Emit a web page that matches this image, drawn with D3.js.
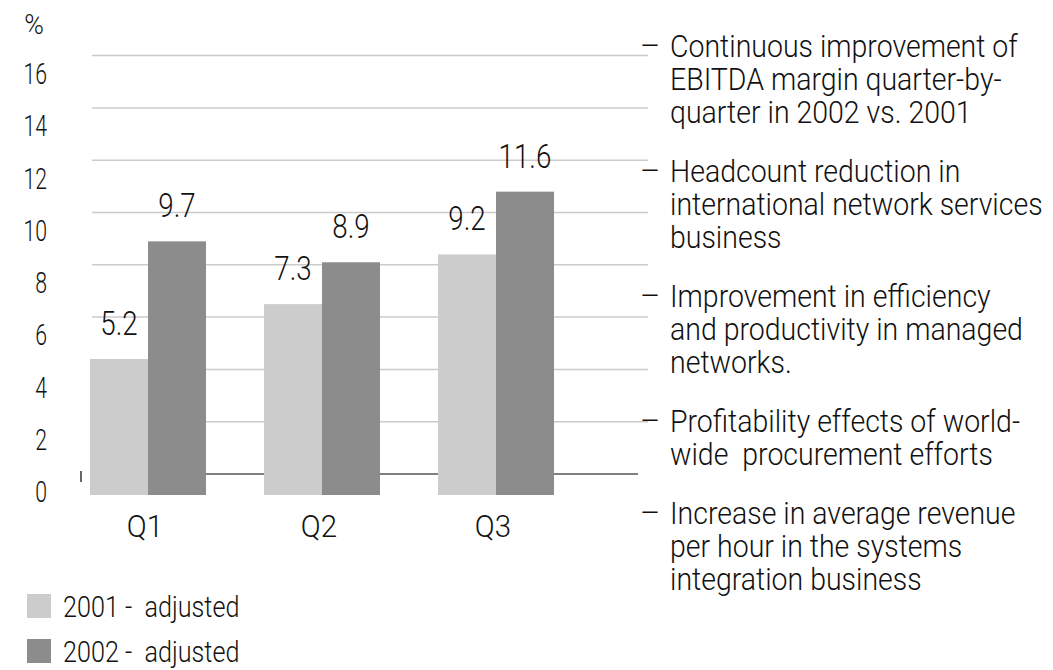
<!DOCTYPE html>
<html lang="en">
<head>
    <meta charset="UTF-8">
    <title>EBITDA margin by quarter</title>
    <script src="https://d3js.org/d3.v7.min.js"></script>
    <style>
        body {
            margin: 0;
            background: #fff;
        }
        svg text {
            font-family: Roboto, "Liberation Sans", sans-serif;
            font-weight: 300;
            fill: #111;
            white-space: pre;
        }
    </style>
</head>
<body>
    <div id="chart"></div>

    <script>
        const quarters = ['Q1', 'Q2', 'Q3'];
        const seriesNames = ['2001 -  adjusted', '2002 -  adjusted'];
        const values2001 = [5.2, 7.3, 9.2];
        const values2002 = [9.7, 8.9, 11.6];
        const yTicks = [0, 2, 4, 6, 8, 10, 12, 14, 16];
        const unitLabel = '%';
        const bullets = [
            ['Continuous improvement of', 'EBITDA margin quarter-by-', 'quarter in 2002 vs. 2001'],
            ['Headcount reduction in', 'international network services', 'business'],
            ['Improvement in efficiency', 'and productivity in managed', 'networks.'],
            ['Profitability effects of world-', 'wide  procurement efforts'],
            ['Increase in average revenue', 'per hour in the systems', 'integration business']
        ];

        const colors = ['#cccccc', '#8c8c8c'];
        const width = 1053;
        const height = 670;

        const svg = d3.select('#chart').append('svg')
            .attr('width', width)
            .attr('height', height);

        // the slide uses a condensed face, so squeeze text horizontally
        function squeeze(sel, fx, fy, sx) {
            sel.attr('x', 0).attr('y', 0)
                .attr('transform', (d, i) => `translate(${fx(d, i)},${fy(d, i)}) scale(${sx},1)`);
        }

        const x0 = d3.scaleBand()
            .domain(quarters)
            .range([61, 583])
            .paddingInner(1 / 3)
            .paddingOuter(1 / 6);

        const x1 = d3.scaleBand()
            .domain([0, 1])
            .range([0, x0.bandwidth()]);

        const y = d3.scaleLinear()
            .domain([0, 16])
            .range([495, 76.6]);

        // gridlines sit a bit above the bar scale in the original slide
        const gridShift = 21;

        svg.append('g').selectAll('line')
            .data(yTicks.filter(d => d > 0))
            .join('line')
            .attr('x1', 92)
            .attr('x2', 648)
            .attr('y1', d => y(d) - gridShift)
            .attr('y2', d => y(d) - gridShift)
            .attr('stroke', '#cbcbcb')
            .attr('stroke-width', 1.5);

        svg.append('line')
            .attr('x1', 90)
            .attr('x2', 638)
            .attr('y1', y(0) - gridShift)
            .attr('y2', y(0) - gridShift)
            .attr('stroke', '#000')
            .attr('stroke-width', 1);

        svg.append('line')
            .attr('x1', 81)
            .attr('x2', 81)
            .attr('y1', y(0) - gridShift - 3)
            .attr('y2', y(0) - gridShift + 8)
            .attr('stroke', '#000')
            .attr('stroke-width', 1.2);

        // y tick labels
        svg.append('g').selectAll('text')
            .data(yTicks)
            .join('text')
            .attr('dy', '0.35em')
            .attr('text-anchor', 'end')
            .style('font-size', '29.5px')
            .text(d => d)
            .call(squeeze, () => 47, d => y(d) - 3, 0.72);

        svg.append('text')
            .attr('text-anchor', 'middle')
            .style('font-size', '28px')
            .text(unitLabel)
            .call(squeeze, () => 34, () => 34, 0.95);

        const rows = quarters.map((q, i) => ({ q, vals: [values2001[i], values2002[i]] }));

        const groups = svg.append('g').selectAll('g')
            .data(rows)
            .join('g')
            .attr('transform', d => `translate(${x0(d.q)},0)`);

        groups.selectAll('rect')
            .data(d => d.vals.map((v, s) => ({ v, s })))
            .join('rect')
            .attr('x', d => x1(d.s))
            .attr('y', d => y(d.v))
            .attr('width', x1.bandwidth())
            .attr('height', d => y(0) - y(d.v))
            .attr('fill', d => colors[d.s]);

        groups.selectAll('text.val')
            .data(d => d.vals.map((v, s) => ({ v, s })))
            .join('text')
            .attr('class', 'val')
            .attr('text-anchor', 'middle')
            .style('font-size', '33px')
            .text(d => d.v.toFixed(1))
            .call(squeeze, d => x1(d.s) + x1.bandwidth() / 2, d => y(d.v) - 24, 0.84);

        // category labels
        svg.append('g').selectAll('text')
            .data(quarters)
            .join('text')
            .attr('text-anchor', 'middle')
            .style('font-size', '31px')
            .text(d => d)
            .call(squeeze, d => x0(d) + x0.bandwidth() / 2 - 3, () => 537, 0.95);

        // legend
        const legend = svg.append('g').selectAll('g')
            .data(seriesNames)
            .join('g')
            .attr('transform', (d, i) => `translate(27,${594 + i * 45})`);

        legend.append('rect')
            .attr('width', 24)
            .attr('height', 24)
            .attr('fill', (d, i) => colors[i]);

        legend.append('text')
            .attr('dy', '0.35em')
            .style('font-size', '30px')
            .text(d => d)
            .call(squeeze, () => 36, () => 12, 0.84);

        // bullet list on the right
        const lineH = 33;
        const itemGap = 26;
        let yPos = 57;
        const list = svg.append('g');
        bullets.forEach(lines => {
            list.append('text')
                .attr('x', 640)
                .attr('y', yPos)
                .style('font-size', '31px')
                .text('\u2013');
            list.selectAll(null)
                .data(lines)
                .enter().append('text')
                .style('font-size', '32px')
                .text(d => d)
                .call(squeeze, () => 670, (d, k) => yPos + k * lineH, 0.89);
            yPos += lines.length * lineH + itemGap;
        });
    </script>
</body>
</html>
